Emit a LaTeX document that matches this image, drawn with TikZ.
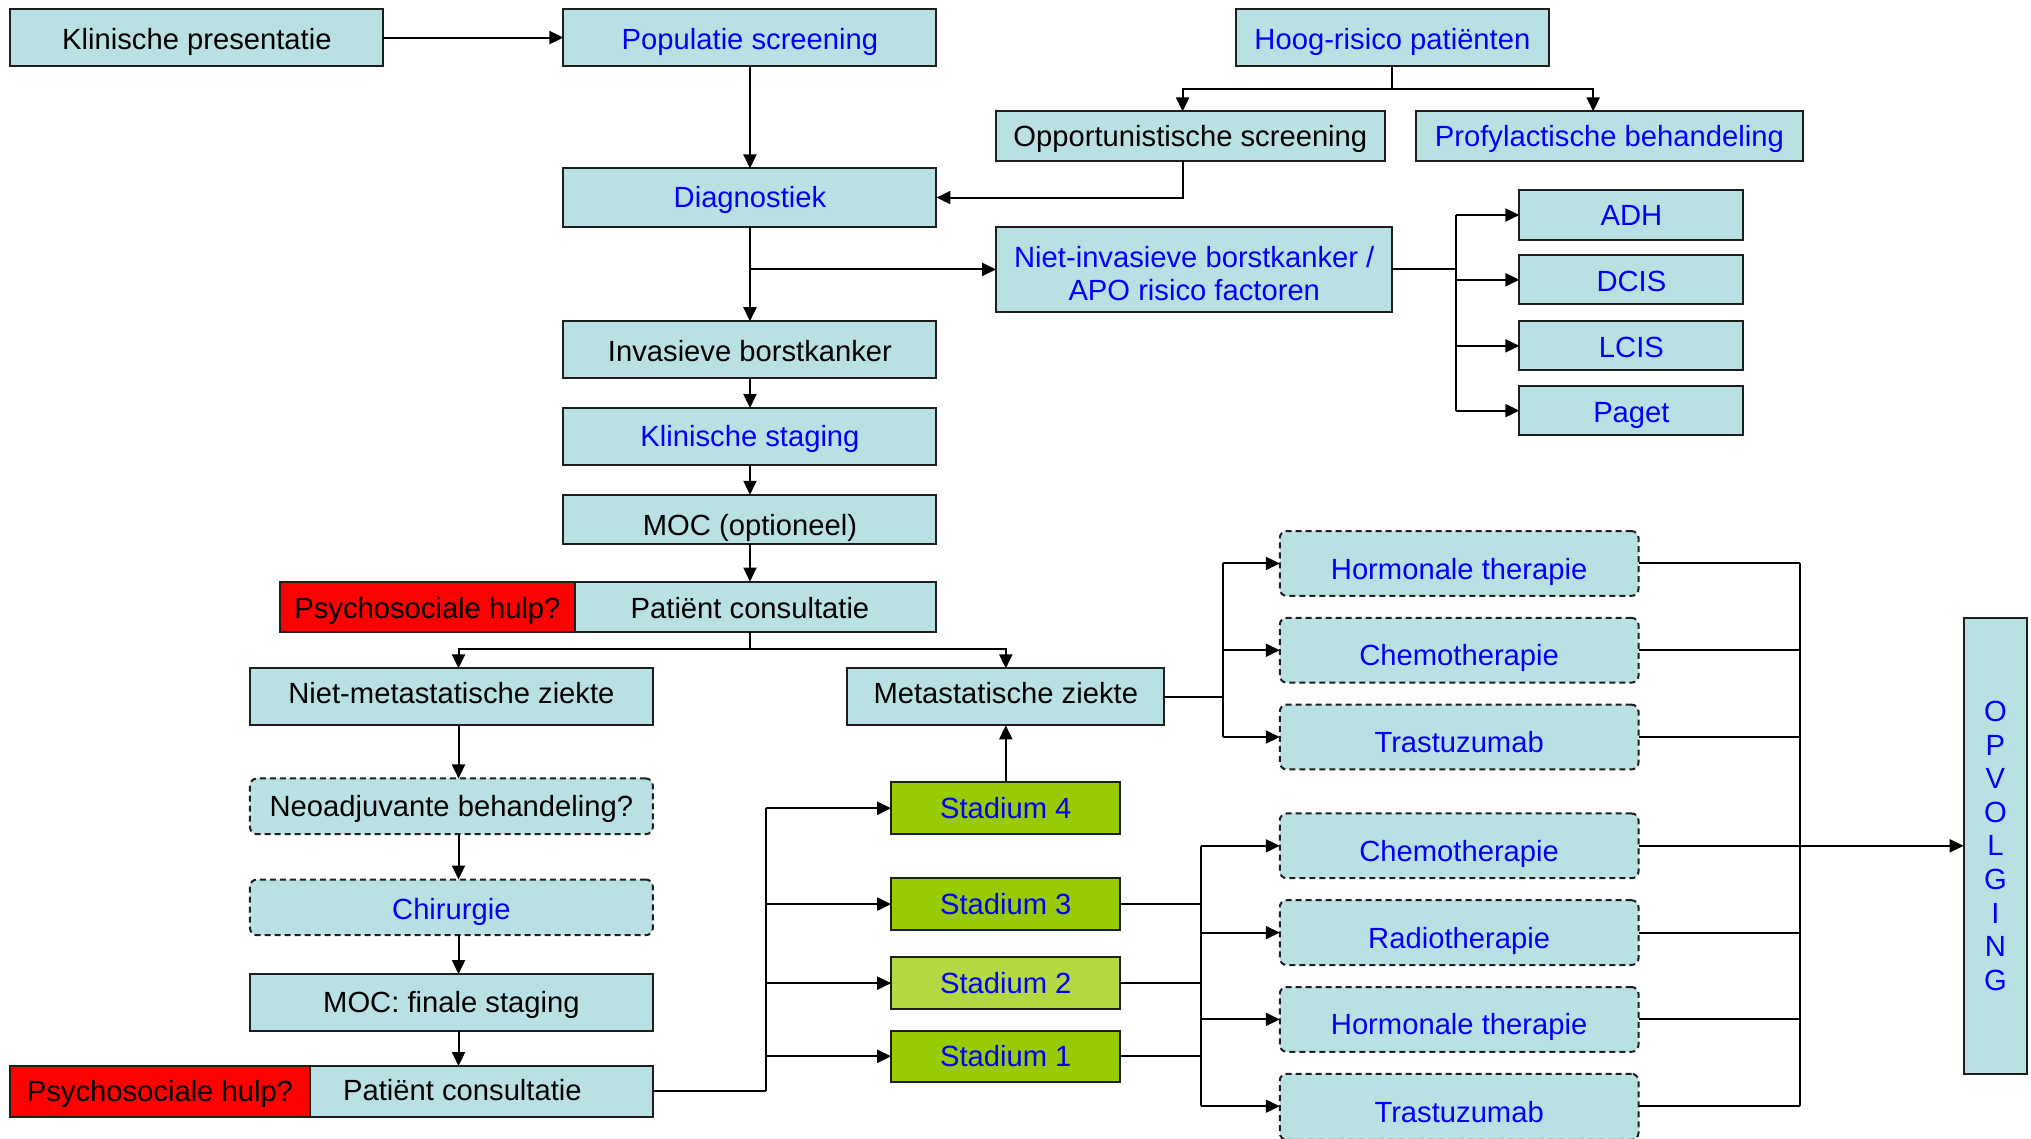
\documentclass[tikz,border=0pt]{standalone}
\usepackage{fontspec}
\setmainfont{Liberation Sans}
\usetikzlibrary{arrows.meta}
\definecolor{lb}{RGB}{185,224,227}
\definecolor{tb}{RGB}{0,0,255}
\definecolor{gr}{RGB}{153,204,0}
\definecolor{gr2}{RGB}{178,216,66}
\definecolor{rd}{RGB}{255,0,0}
\definecolor{bd}{RGB}{30,30,30}
% single-line box: optional arg = downward text shift (reference px)
\newcommand\bxs[8][0]{\pgfmathsetmacro\bxh{2*(5.2+(#1)*0.6477)}%
  \node[#7,text depth=0pt,text height=\bxh pt,minimum width={(#5-#3)*0.6477pt},minimum height={(#6-#4)*0.6477pt}] (#2) at ({(#3+#5)/2},{(#4+#6)/2}) {#8};}
% multi-line box
\newcommand\bxm[7]{\node[#6,minimum width={(#4-#2)*0.6477pt},minimum height={(#5-#3)*0.6477pt}] (#1) at ({(#2+#4)/2},{(#3+#5)/2}) {#7};}
\tikzset{
  base/.style={draw=bd,line width=1pt,inner sep=0pt,outer sep=0pt,align=center,font=\fontsize{14.6pt}{16.8pt}\selectfont},
  txt/.style={inner sep=0pt,outer sep=0pt,align=center,font=\fontsize{14.6pt}{16.8pt}\selectfont},
  box/.style={base,fill=lb},
  dbox/.style={base,fill=lb,dash pattern=on 3pt off 2pt,rounded corners=3.5pt},
  redbox/.style={base,fill=rd},
  gbox/.style={base,fill=gr},
  gbox2/.style={base,fill=gr2},
  bt/.style={text=tb},
  conn/.style={line width=1pt,draw=black},
  arr/.style={conn,-{Triangle[length=7pt,width=6.5pt]}},
}
\begin{document}
\begin{tikzpicture}[x=0.6477pt,y=-0.6477pt]
\useasboundingbox (0,0) rectangle (1568,879);
\clip (0,0) rectangle (1568,879);
% top area
\bxs[1]{klin}{8}{7}{296}{51}{box}{Klinische presentatie}
\bxs[1]{pop}{435}{7}{723}{51}{box,bt}{Populatie screening}
\bxs[1]{hoog}{954}{7}{1196}{51}{box,bt}{Hoog-risico patiënten}
\bxs{opp}{769}{86}{1069}{124}{box}{Opportunistische screening}
\bxs{pro}{1093}{86}{1392}{124}{box,bt}{Profylactische behandeling}
\bxs{diag}{435}{130}{723}{175}{box,bt}{Diagnostiek}
\bxm{niv}{769}{175}{1075}{241}{box}{}
\node[txt,bt] (nivt) at ([yshift=-2pt]niv.center) {Niet-invasieve borstkanker /\\APO risico factoren};
\bxs{adh}{1173}{147}{1346}{185}{box,bt}{ADH}
\bxs[1]{dcis}{1173}{197}{1346}{235}{box,bt}{DCIS}
\bxs[1]{lcis}{1173}{248}{1346}{286}{box,bt}{LCIS}
\bxs[1]{paget}{1173}{298}{1346}{336}{box,bt}{Paget}
\bxs[1]{inv}{435}{248}{723}{292}{box}{Invasieve borstkanker}
\bxs{ks}{435}{315}{723}{359}{box,bt}{Klinische staging}
\bxs[4]{moc}{435}{382}{723}{420}{box}{MOC (optioneel)}
\bxs[1]{pc1}{435}{449}{723}{488}{box}{Patiënt consultatie}
\bxs[1]{psy1}{216}{449}{444}{488}{redbox}{Psychosociale hulp?}
% left column
\bxs[-3]{nm}{193}{516}{504}{560}{box}{Niet-metastatische ziekte}
\bxs[-3]{meta}{654}{516}{899}{560}{box}{Metastatische ziekte}
\bxs{neo}{193}{601}{504}{644}{dbox}{Neoadjuvante behandeling?}
\bxs[1]{chir}{193}{679}{504}{722}{dbox,bt}{Chirurgie}
\bxs{moc2}{193}{752}{504}{796}{box}{MOC: finale staging}
\bxs[-1]{pc2}{193}{823}{504}{862}{box}{\hspace*{11pt}Patiënt consultatie}
\bxs{psy2}{8}{823}{239}{862}{redbox}{Psychosociale hulp?}
% stadia
\bxs{st4}{688}{604}{865}{644}{gbox,bt}{Stadium 4}
\bxs{st3}{688}{678}{865}{718}{gbox,bt}{Stadium 3}
\bxs{st2}{688}{739}{865}{779}{gbox2,bt}{Stadium 2}
\bxs{st1}{688}{796}{865}{835}{gbox,bt}{Stadium 1}
% therapies
\bxs[4]{hor1}{988}{410}{1265}{460}{dbox,bt}{Hormonale therapie}
\bxs[4]{che1}{988}{477}{1265}{527}{dbox,bt}{Chemotherapie}
\bxs[4]{tra1}{988}{544}{1265}{594}{dbox,bt}{Trastuzumab}
\bxs[4]{che2}{988}{628}{1265}{678}{dbox,bt}{Chemotherapie}
\bxs[4]{rad}{988}{695}{1265}{745}{dbox,bt}{Radiotherapie}
\bxs[4]{hor2}{988}{762}{1265}{812}{dbox,bt}{Hormonale therapie}
\bxs[4]{tra2}{988}{829}{1265}{880}{dbox,bt}{Trastuzumab}
\bxm{opv}{1516}{477}{1565}{829}{box,bt}{O\\P\\V\\O\\L\\G\\I\\N\\G}
% helper coordinates
\coordinate (hy) at (0,69);
\coordinate (ox) at (913,0);
\coordinate (qx) at (1230,0);
\coordinate (nx) at (1124,0);
\coordinate (fy) at (0,501);
\coordinate (lc) at (354,0);
\coordinate (px) at (591,0);
\coordinate (mx) at (944,0);
\coordinate (sx) at (927,0);
\coordinate (rx) at (1390,0);
\coordinate (ty) at (0,854);
% connectors top
\draw[arr] (klin) -- (pop);
\draw[arr] (pop) -- (diag);
\draw[conn] (hoog.south) -- (hoog.south |- hy);
\draw[arr] (hoog.south |- hy) -| (opp.north -| ox);
\draw[arr] (hoog.south |- hy) -| (pro.north -| qx);
\draw[arr] (opp.south -| ox) |- (diag.east);
\draw[arr] (diag) -- (inv);
\draw[arr] (diag.south |- niv.west) -- (niv.west);
\draw[conn] (niv.east) -- (niv.east -| nx);
\draw[conn] (adh.west -| nx) -- (paget.west -| nx);
\draw[arr] (adh.west -| nx) -- (adh.west);
\draw[arr] (dcis.west -| nx) -- (dcis.west);
\draw[arr] (lcis.west -| nx) -- (lcis.west);
\draw[arr] (paget.west -| nx) -- (paget.west);
\draw[arr] (inv) -- (ks);
\draw[arr] (ks) -- (moc);
\draw[arr] (moc) -- (pc1);
% fork after consultation
\draw[conn] (pc1.south) -- (pc1.south |- fy);
\draw[arr] (pc1.south |- fy) -| (nm.north -| lc);
\draw[arr] (pc1.south |- fy) -| (meta.north);
% left column
\draw[arr] (nm.south -| lc) -- (neo.north -| lc);
\draw[arr] (neo.south -| lc) -- (chir.north -| lc);
\draw[arr] (chir.south -| lc) -- (moc2.north -| lc);
\draw[arr] (moc2.south -| lc) -- (pc2.north -| lc);
% to stadia
\draw[conn] (pc2.east) -- (pc2.east -| px);
\draw[conn] (st4.west -| px) -- (pc2.east -| px);
\draw[arr] (st4.west -| px) -- (st4.west);
\draw[arr] (st3.west -| px) -- (st3.west);
\draw[arr] (st2.west -| px) -- (st2.west);
\draw[arr] (st1.west -| px) -- (st1.west);
\draw[arr] (st4) -- (meta);
% metastatic fork
\draw[conn] (meta.east) -- (meta.east -| mx);
\draw[conn] (hor1.west -| mx) -- (tra1.west -| mx);
\draw[arr] (hor1.west -| mx) -- (hor1.west);
\draw[arr] (che1.west -| mx) -- (che1.west);
\draw[arr] (tra1.west -| mx) -- (tra1.west);
% stadia fork
\draw[conn] (st3.east) -- (st3.east -| sx);
\draw[conn] (st2.east) -- (st2.east -| sx);
\draw[conn] (st1.east) -- (st1.east -| sx);
\draw[conn] (che2.west -| sx) -- (ty -| sx);
\draw[arr] (che2.west -| sx) -- (che2.west);
\draw[arr] (rad.west -| sx) -- (rad.west);
\draw[arr] (hor2.west -| sx) -- (hor2.west);
\draw[arr] (ty -| sx) -- (ty -| tra2.west);
% right collector
\draw[conn] (hor1.east) -- (hor1.east -| rx);
\draw[conn] (che1.east) -- (che1.east -| rx);
\draw[conn] (tra1.east) -- (tra1.east -| rx);
\draw[conn] (rad.east) -- (rad.east -| rx);
\draw[conn] (hor2.east) -- (hor2.east -| rx);
\draw[conn] (ty -| tra2.east) -- (ty -| rx);
\draw[conn] (hor1.east -| rx) -- (ty -| rx);
\draw[arr] (che2.east) -- (che2.east -| opv.west);
\end{tikzpicture}
\end{document}
